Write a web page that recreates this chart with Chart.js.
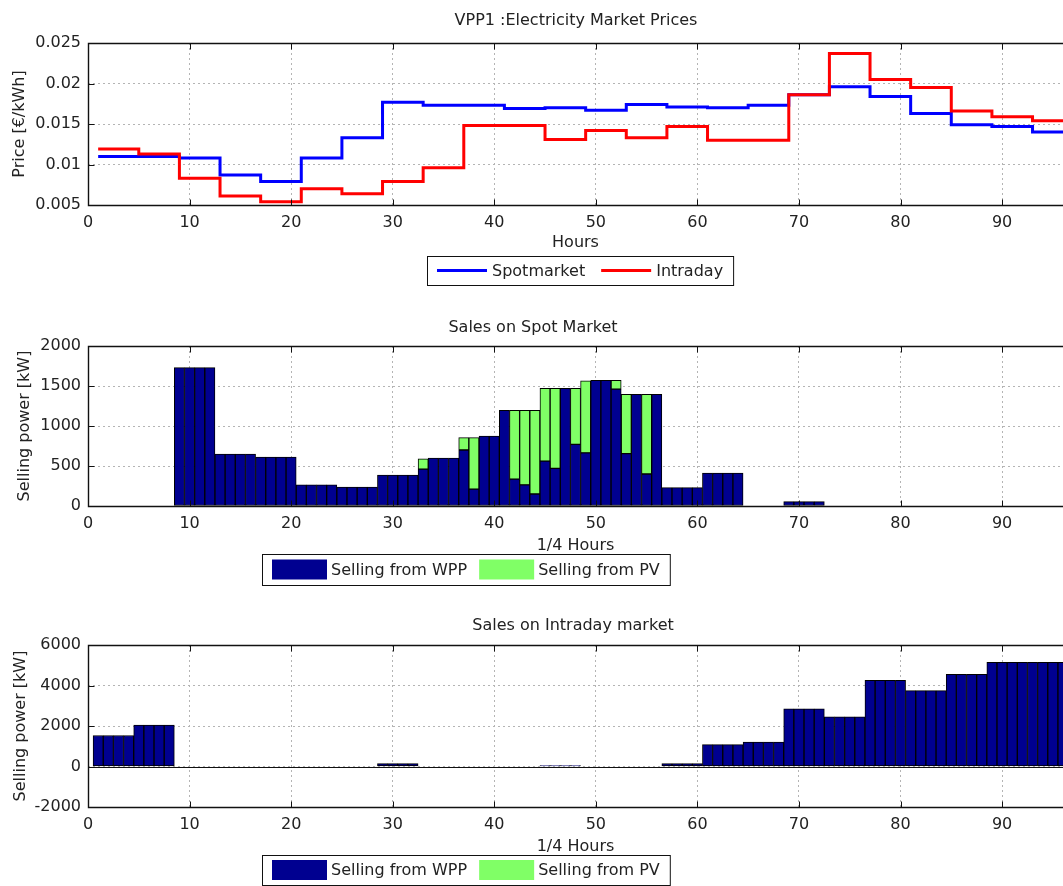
<!DOCTYPE html>
<html>
<head>
<meta charset="utf-8">
<title>VPP1 market sales</title>
<script src="https://cdn.jsdelivr.net/npm/chart.js@4.4.1/dist/chart.umd.min.js"></script>
<style>
  html, body { margin: 0; padding: 0; background: #fff; overflow: hidden; }
  .panel { position: absolute; left: 0; width: 1063px; }
</style>
</head>
<body>
<div class="panel" style="top:0;height:290px"><canvas id="priceChart"></canvas></div>
<div class="panel" style="top:300px;height:290px"><canvas id="spotChart"></canvas></div>
<div class="panel" style="top:600px;height:286px"><canvas id="intradayChart"></canvas></div>
<script>
// hourly prices, each hour covers four quarter-hour slots
const hourEdges = [1, 5, 9, 13, 17, 21, 25, 29, 33, 37, 41, 45, 49, 53, 57, 61, 65, 69, 73, 77, 81, 85, 89, 93, 97];
const spotPrice = [0.0110, 0.0110, 0.0108, 0.0087, 0.0079, 0.0108, 0.0133, 0.0177, 0.0173, 0.0173, 0.0169, 0.0170,
                   0.0167, 0.0174, 0.0171, 0.0170, 0.0173, 0.0186, 0.0196, 0.0184, 0.0163, 0.0149, 0.0147, 0.0140];
const intradayPrice = [0.0119, 0.0113, 0.0083, 0.0061, 0.0054, 0.0070, 0.0064, 0.0079, 0.0096, 0.0148, 0.0148, 0.0131,
                       0.0142, 0.0133, 0.0147, 0.0130, 0.0130, 0.0186, 0.0237, 0.0205, 0.0195, 0.0166, 0.0159, 0.0154];

// quarter-hour sales [kW]
const quarterHours = Array.from({ length: 96 }, (_, i) => i + 1);
const spotWpp = [
  0, 0, 0, 0, 0, 0, 0, 0,
  1730, 1730, 1730, 1730, 650, 650, 650, 650, 610, 610, 610, 610, 265, 265, 265, 265,
  235, 235, 235, 235, 385, 385, 385, 385,
  460, 600, 600, 600, 700, 210, 875, 875, 1195, 335, 265, 150,
  560, 470, 1470, 770, 665, 1570, 1570, 1460, 655, 1395, 400, 1395,
  230, 230, 230, 230, 410, 410, 410, 410, 0, 0, 0, 0, 55, 55, 55, 55,
  0, 0, 0, 0, 0, 0, 0, 0, 0, 0, 0, 0, 0, 0, 0, 0, 0, 0, 0, 0, 0, 0, 0, 0
];
const spotPv = [
  0, 0, 0, 0, 0, 0, 0, 0, 0, 0, 0, 0, 0, 0, 0, 0, 0, 0, 0, 0, 0, 0, 0, 0, 0, 0, 0, 0, 0, 0, 0, 0,
  130, 0, 0, 0, 155, 645, 0, 0, 0, 860, 930, 1045,
  910, 1000, 0, 700, 900, 0, 0, 110, 740, 0, 995, 0,
  0, 0, 0, 0, 0, 0, 0, 0, 0, 0, 0, 0, 0, 0, 0, 0,
  0, 0, 0, 0, 0, 0, 0, 0, 0, 0, 0, 0, 0, 0, 0, 0, 0, 0, 0, 0, 0, 0, 0, 0
];
const intradayWpp = [
  1530, 1530, 1530, 1530, 2050, 2050, 2050, 2050,
  0, 0, 0, 0, 0, 0, 0, 0, 0, 0, 0, 0, 0, 0, 0, 0, 0, 0, 0, 0,
  150, 150, 150, 150, 0, 0, 0, 0, 0, 0, 0, 0, 0, 0, 0, 0,
  40, 40, 40, 40, 0, 0, 0, 0, 0, 0, 0, 0,
  150, 150, 150, 150, 1080, 1080, 1080, 1080, 1200, 1200, 1200, 1200, 2850, 2850, 2850, 2850,
  2450, 2450, 2450, 2450, 4250, 4250, 4250, 4250, 3750, 3750, 3750, 3750, 4550, 4550, 4550, 4550,
  5150, 5150, 5150, 5150, 5150, 5150, 5150, 5150
];
const intradayPv = [
  0, 0, 0, 0, 0, 0, 0, 0, 0, 0, 0, 0, 0, 0, 0, 0, 0, 0, 0, 0, 0, 0, 0, 0,
  0, 0, 0, 0, 0, 0, 0, 0, 0, 0, 0, 0, 0, 0, 0, 0, 0, 0, 0, 0, 0, 0, 0, 0,
  0, 0, 0, 0, 0, 0, 0, 0, 0, 0, 0, 0, 0, 0, 0, 0, 0, 0, 0, 0, 0, 0, 0, 0,
  0, 0, 0, 0, 0, 0, 0, 0, 0, 0, 0, 0, 0, 0, 0, 0, 0, 0, 0, 0, 0, 0, 0, 0
];

const TEXT = '#222';
const GRID = '#b4b4b4';
const FAMILY = '"DejaVu Sans", sans-serif';
const font = { family: FAMILY, size: 16 };
const WPP_COLOR = '#000090';
const PV_COLOR = '#80ff66';

// matlab-like axes box, inward ticks, title and boxed legend
const matlabAxes = {
  id: 'matlabAxes',
  afterDatasetsDraw(chart, args, opts) {
    const { ctx, chartArea: a, scales: { x, y } } = chart;
    const L = Math.round(a.left) + 0.5, T = Math.round(a.top) + 0.5, B = Math.round(a.bottom) + 0.5;
    ctx.save();
    ctx.strokeStyle = '#111';
    if (y.min < 0) {
      const y0 = Math.round(y.getPixelForValue(0)) + 0.5;
      ctx.lineWidth = 1.2;
      ctx.beginPath(); ctx.moveTo(a.left, y0); ctx.lineTo(a.right, y0); ctx.stroke();
    }
    ctx.lineWidth = 1.4;
    ctx.beginPath();
    ctx.moveTo(a.right + 2, T); ctx.lineTo(L, T); ctx.lineTo(L, B); ctx.lineTo(a.right + 2, B);
    ctx.stroke();
    ctx.lineWidth = 1;
    ctx.beginPath();
    x.ticks.forEach(t => {
      const px = Math.round(x.getPixelForValue(t.value)) + 0.5;
      ctx.moveTo(px, B); ctx.lineTo(px, B - 6);
      ctx.moveTo(px, T); ctx.lineTo(px, T + 6);
    });
    y.ticks.forEach(t => {
      const py = Math.round(y.getPixelForValue(t.value)) + 0.5;
      ctx.moveTo(L, py); ctx.lineTo(L + 6, py);
    });
    ctx.stroke();

    ctx.font = font.size + 'px ' + FAMILY;
    ctx.fillStyle = TEXT;
    ctx.textAlign = 'center';
    ctx.textBaseline = 'middle';
    ctx.fillText(opts.title, opts.titleX, opts.titleY);

    // legend
    const lg = opts.legend;
    const items = chart.data.datasets;
    let w = lg.padding * 2 - lg.itemGap;
    items.forEach(ds => { w += lg.sample + lg.textGap + ctx.measureText(ds.label).width + lg.itemGap; });
    ctx.fillStyle = '#fff';
    ctx.fillRect(lg.x, lg.y, w, lg.h);
    ctx.strokeStyle = '#111';
    ctx.lineWidth = 1;
    ctx.strokeRect(lg.x + 0.5, lg.y + 0.5, w, lg.h);
    const midY = lg.y + lg.h / 2;
    let cx = lg.x + lg.padding;
    items.forEach(ds => {
      if (lg.kind === 'line') {
        ctx.strokeStyle = ds.borderColor;
        ctx.lineWidth = ds.borderWidth;
        ctx.beginPath(); ctx.moveTo(cx, midY); ctx.lineTo(cx + lg.sample, midY); ctx.stroke();
      } else {
        ctx.fillStyle = ds.backgroundColor;
        ctx.fillRect(cx, midY - 10, lg.sample, 20);
      }
      cx += lg.sample + lg.textGap;
      ctx.fillStyle = TEXT;
      ctx.textAlign = 'left';
      ctx.fillText(ds.label, cx, midY + 1);
      cx += ctx.measureText(ds.label).width + lg.itemGap;
    });
    ctx.restore();
  }
};

function xAxis(title, height) {
  return {
    type: 'linear', min: 0, max: 96, offset: false,
    grid: { color: GRID, drawTicks: false, offset: false },
    border: { display: false, dash: [2, 3] },
    ticks: { stepSize: 10, includeBounds: false, padding: 8, color: TEXT, font },
    title: { display: true, text: title, color: TEXT, font, padding: { top: 0, bottom: 0 } },
    afterFit: s => { s.height = height; }
  };
}

function yAxis(title, min, max, step, titlePad, callback) {
  return {
    min, max,
    grid: { color: GRID, drawTicks: false },
    border: { display: false, dash: [2, 3] },
    ticks: { stepSize: step, padding: 7, color: TEXT, font, callback },
    title: { display: true, text: title, color: TEXT, font, padding: { top: titlePad, bottom: 0 } },
    afterFit: s => { s.width = 88; }
  };
}

function stepPoints(values) {
  const pts = values.map((v, i) => ({ x: hourEdges[i], y: v }));
  pts.push({ x: hourEdges[values.length], y: values[values.length - 1] });
  return pts;
}

function barPoints(values) {
  return quarterHours.map((q, i) => ({ x: q, y: values[i] }));
}

function barDataset(label, values, color) {
  return {
    label, data: barPoints(values),
    backgroundColor: color, borderColor: '#000', borderWidth: 1, borderSkipped: false,
    barPercentage: 1, categoryPercentage: 1
  };
}

const base = { responsive: true, maintainAspectRatio: false, animation: false, events: [] };

new Chart(document.getElementById('priceChart'), {
  type: 'line',
  data: {
    datasets: [
      { label: 'Spotmarket', data: stepPoints(spotPrice), borderColor: '#0000ff', borderWidth: 3,
        stepped: true, pointRadius: 0, order: 1 },
      { label: 'Intraday', data: stepPoints(intradayPrice), borderColor: '#ff0000', borderWidth: 3,
        stepped: true, pointRadius: 0, order: 0 }
    ]
  },
  options: {
    ...base,
    layout: { padding: { top: 43, bottom: 38, left: 0, right: 0 } },
    plugins: {
      legend: { display: false }, tooltip: { enabled: false },
      matlabAxes: {
        title: 'VPP1 :Electricity Market Prices', titleX: 576, titleY: 21,
        legend: { kind: 'line', x: 427, y: 256, h: 29, padding: 10, sample: 50, textGap: 5, itemGap: 16 }
      }
    },
    scales: {
      x: xAxis('Hours', 47),
      y: yAxis('Price [€/kWh]', 0.005, 0.025, 0.005, 10, v => String(Number(v.toFixed(3))))
    }
  },
  plugins: [matlabAxes]
});

new Chart(document.getElementById('spotChart'), {
  type: 'bar',
  data: {
    datasets: [
      barDataset('Selling from WPP', spotWpp, WPP_COLOR),
      barDataset('Selling from PV', spotPv, PV_COLOR)
    ]
  },
  options: {
    ...base,
    layout: { padding: { top: 46, bottom: 35, left: 0, right: 0 } },
    plugins: {
      legend: { display: false }, tooltip: { enabled: false },
      matlabAxes: {
        title: 'Sales on Spot Market', titleX: 533, titleY: 28,
        legend: { kind: 'box', x: 262, y: 254, h: 31, padding: 10, sample: 55, textGap: 4, itemGap: 12 }
      }
    },
    scales: {
      x: { ...xAxis('1/4 Hours', 49), stacked: true },
      y: { ...yAxis('Selling power [kW]', 0, 2000, 500, 15), stacked: true }
    }
  },
  plugins: [matlabAxes]
});

new Chart(document.getElementById('intradayChart'), {
  type: 'bar',
  data: {
    datasets: [
      barDataset('Selling from WPP', intradayWpp, WPP_COLOR),
      barDataset('Selling from PV', intradayPv, PV_COLOR)
    ]
  },
  options: {
    ...base,
    layout: { padding: { top: 45, bottom: 30, left: 0, right: 0 } },
    plugins: {
      legend: { display: false }, tooltip: { enabled: false },
      matlabAxes: {
        title: 'Sales on Intraday market', titleX: 573, titleY: 26,
        legend: { kind: 'box', x: 262, y: 255, h: 30, padding: 10, sample: 55, textGap: 4, itemGap: 12 }
      }
    },
    scales: {
      x: { ...xAxis('1/4 Hours', 49), stacked: true },
      y: { ...yAxis('Selling power [kW]', -2000, 6000, 2000, 11), stacked: true }
    }
  },
  plugins: [matlabAxes]
});
</script>
</body>
</html>
